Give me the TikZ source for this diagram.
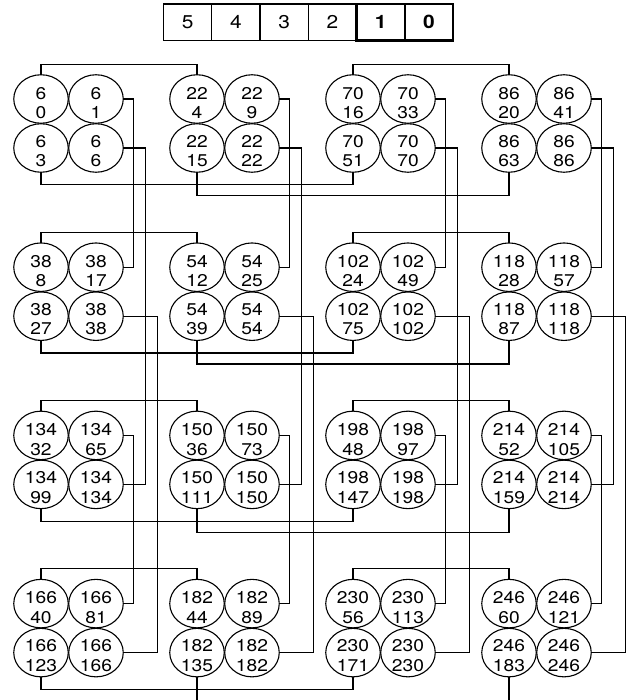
\documentclass[tikz,border=0pt]{standalone}
\usepackage{fontspec}
\usepackage{graphicx}
\setmainfont{TeX Gyre Heros}
\usetikzlibrary{shapes.geometric}
\newcommand\hstr[1]{\scalebox{1.13}[1]{#1}}
\begin{document}
\begin{tikzpicture}[x=1pt,y=-1pt,
  ln/.style={line width=1.1pt},
  cell/.style={ellipse, draw, line width=1.1pt, minimum width=54.5pt, minimum height=48.5pt, inner sep=0pt, outer sep=0pt},
  num/.style={align=center, inner sep=0pt, font=\fontsize{17}{19.5}\selectfont},
  regbox/.style={draw, line width=1.1pt, minimum width=48.25pt, minimum height=36.5pt, inner sep=0pt, outer sep=0pt, font=\fontsize{18.5}{20}\selectfont},
  regbold/.style={regbox, line width=2.2pt, font=\fontsize{18.5}{20}\selectfont\bfseries}]
\useasboundingbox (0,0) rectangle (632,700);
% register
\foreach \i/\d in {0/5,1/4,2/3,3/2}{
  \node[regbox] (reg\d) at ({163.5+48.25*(\i+0.5)},22.25) {\hstr{\d}};
}
\node[regbold] (reg1) at ({163.5+48.25*4.5},22.25) {\hstr{1}};
\node[regbold] (reg0) at ({163.5+48.25*5.5},22.25) {\hstr{0}};
% groups
\foreach \r/\ro in {0/0,1/32,2/128,3/160}{
  \foreach \c/\co in {0/0,1/16,2/64,3/80}{
    \pgfmathtruncatemacro\vV{6+\ro+\co}
    \pgfmathtruncatemacro\vA{(\vV-6)/4}
    \pgfmathtruncatemacro\vB{2*\vA+1}
    \pgfmathtruncatemacro\vC{3*\vA+3}
    \pgfmathsetmacro\gX{41+156*\c}
    \pgfmathsetmacro\gY{99+168.2*\r}
    \node[cell] (tl\r\c) at (\gX,\gY) {};
    \node[cell] (tr\r\c) at (\gX+55,\gY) {};
    \node[cell] (bl\r\c) at (\gX,\gY+49) {};
    \node[cell] (br\r\c) at (\gX+55,\gY+49) {};
    \node[num] (ttl\r\c) at ([yshift=-4pt]tl\r\c.center) {\hstr{\vV}\\\hstr{\vA}};
    \node[num] (ttr\r\c) at ([yshift=-4pt]tr\r\c.center) {\hstr{\vV}\\\hstr{\vB}};
    \node[num] (tbl\r\c) at ([yshift=-3pt]bl\r\c.center) {\hstr{\vV}\\\hstr{\vC}};
    \node[num] (tbr\r\c) at ([yshift=-3pt]br\r\c.center) {\hstr{\vV}\\\hstr{\vV}};
  }
}
% right-side connectors
\foreach \c in {0,...,3}{
  \draw[ln] (tr0\c.east) -- ++(10.5,0) |- (tr1\c.east);
  \draw[ln] (tr2\c.east) -- ++(10.5,0) |- (tr3\c.east);
  \draw[ln] (br0\c.east) -- ++(22.5,0) |- (br2\c.east);
  \draw[ln] (br1\c.east) -- ++(34.5,0) |- (br3\c.east);
}
% top connectors
\foreach \r in {0,...,3}{
  \draw[ln] (tl\r0.north) -- ++(0,-10.5) -| (tl\r1.north);
  \draw[ln] (tl\r2.north) -- ++(0,-10.5) -| (tl\r3.north);
}
% bottom connectors
\foreach \r in {0,...,3}{
  \draw[ln] (bl\r0.south) -- ++(0,12.5) -| (bl\r2.south);
}
\foreach \r in {0,1,2}{
  \draw[ln] (bl\r1.south) -- ++(0,23.5) -| (bl\r3.south);
}
\coordinate (out1) at (197,700);
\coordinate (out3) at (509,700);
\draw[ln] (bl31.south) -- (out1);
\draw[ln] (bl33.south) -- (out3);
\end{tikzpicture}
\end{document}
